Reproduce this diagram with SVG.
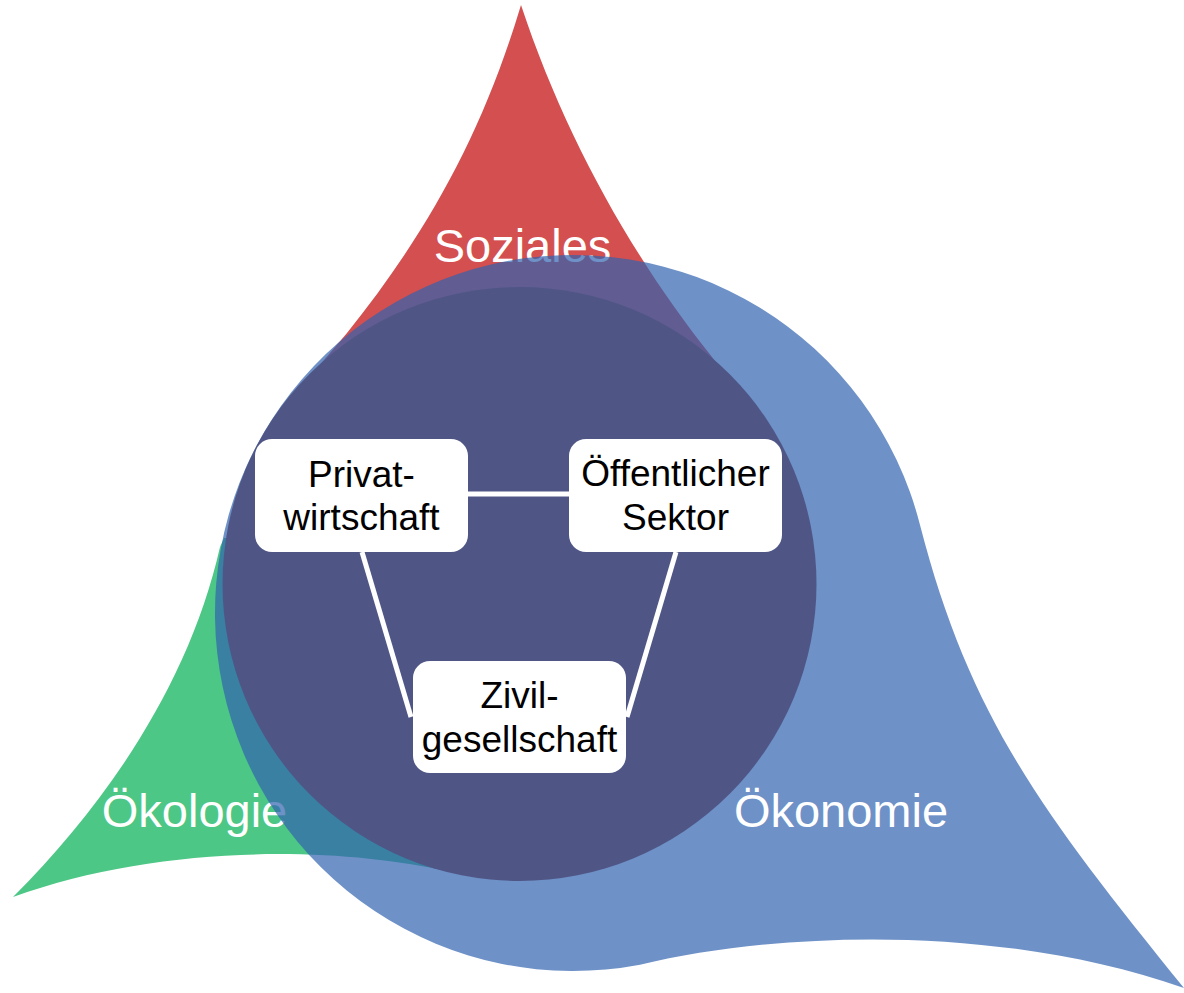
<svg xmlns="http://www.w3.org/2000/svg" width="1184" height="993" viewBox="0 0 1184 993">
<style>
.lbl{font-family:"Liberation Sans",Arial,sans-serif;font-size:47px;fill:#ffffff;text-anchor:middle}
.ntxt{font-family:"Liberation Sans",Arial,sans-serif;font-size:37px;fill:#000000;text-anchor:middle}
.box{fill:#ffffff}
.con{stroke:#ffffff;stroke-width:5;fill:none}
</style>
<rect width="1184" height="993" fill="#ffffff"/>
<g id="soziales">
<path d="M521,5 C564,135 632,257 712,357 L760,420 L520,600 L290,400 L347,333 C427,233 482,135 521,5 Z" fill="#d44f4f"/>
<text class="lbl" x="522.5" y="262">Soziales</text>
</g>
<g id="oekologie">
<path d="M13,897 C110,800 190,680 220,547 L224,538 L320,540 L470,860 L450,872 C332,845 155,845 13,897 Z" fill="#4dc785"/>
<text class="lbl" x="194.5" y="827">Ökologie</text>
</g>
<g id="oekonomie">
<path d="M640,964.7 A358,358 0 1 1 920,525 C970,719 1045,816 1184,988 C1003,925 787,930 640,964.7 Z" fill="#3063af" fill-opacity="0.7"/>
<text class="lbl" x="841" y="827">Ökonomie</text>
</g>
<g id="kern">
<circle cx="519.5" cy="584" r="297" fill="#4f5686"/>
</g>
<g id="connectors">
<line class="con" x1="468" y1="494" x2="569" y2="494"/>
<line class="con" x1="362" y1="552" x2="411" y2="717"/>
<line class="con" x1="676" y1="552" x2="627" y2="717"/>
</g>
<g id="privatwirtschaft">
<rect class="box" x="255" y="439" width="213" height="113" rx="17"/>
<text class="ntxt" x="361.5" y="487">Privat-</text>
<text class="ntxt" x="361.5" y="530">wirtschaft</text>
</g>
<g id="oeffentlicher-sektor">
<rect class="box" x="569" y="439" width="213" height="113" rx="17"/>
<text class="ntxt" x="675.5" y="486">Öffentlicher</text>
<text class="ntxt" x="675.5" y="530">Sektor</text>
</g>
<g id="zivilgesellschaft">
<rect class="box" x="413" y="661" width="213" height="112" rx="17"/>
<text class="ntxt" x="519.5" y="708">Zivil-</text>
<text class="ntxt" x="519.5" y="752">gesellschaft</text>
</g>
</svg>
